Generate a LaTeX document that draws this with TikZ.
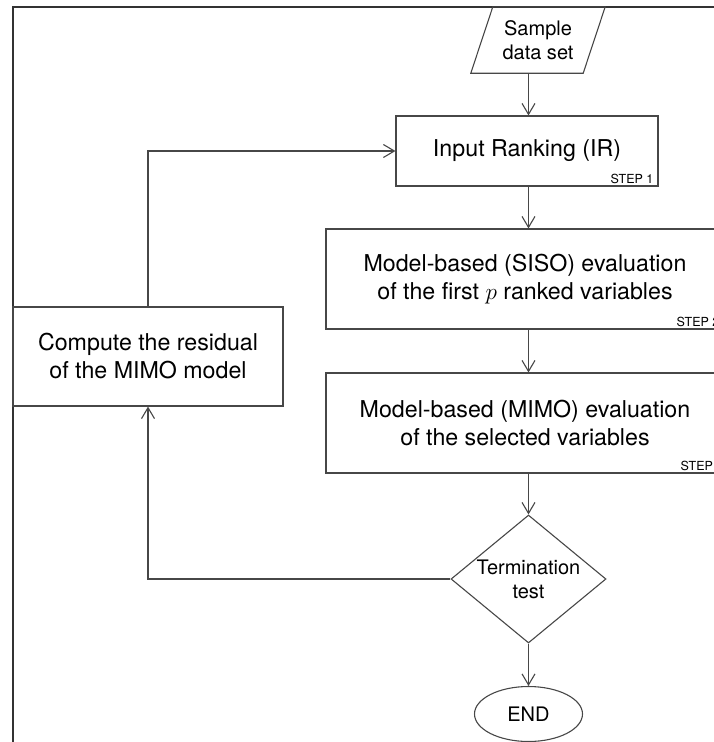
\documentclass[tikz,border=0pt]{standalone}
\usepackage{fix-cm}
\usepackage{fontspec}
\setmainfont{TeX Gyre Heros}
\usetikzlibrary{arrows.meta,shapes.geometric,calc}
\begin{document}
\begin{tikzpicture}[x=1pt,y=-1pt,
  line/.style={draw=black!72, line width=1.1pt},
  arr/.style={line, -{Straight Barb[length=11pt,width=13pt]}},
  big/.style={font=\fontsize{23.2}{28}\selectfont, align=center},
  small/.style={font=\fontsize{20}{24}\selectfont, align=center},
  stepbox/.style={line, big, rectangle, inner sep=0pt},
  steplabel/.style={font=\fontsize{12.5}{14}\selectfont, anchor=south east, inner sep=0pt}]
\useasboundingbox (0,0) rectangle (714,742);
% frame
\draw[draw=black!80, line width=2pt] (12.7,750) -- (12.7,7) -- (720,7);
\coordinate (col) at (528.5,0);
% nodes
\node[small, minimum width=134, minimum height=66, inner sep=0pt] (sds) at (538,40) {Sample\\data set};
\draw[line] ($(sds.north west)+(22,0)$) -- (sds.north east) -- ($(sds.south east)+(-22,0)$) -- (sds.south west) -- cycle;
\node[stepbox, minimum width=262, minimum height=70] (ir) at (527,151) {Input Ranking (IR)};
\node[stepbox, minimum width=398, minimum height=100] (siso) at (525,279) {Model-based (SISO) evaluation\\of the first $p$ ranked variables};
\node[stepbox, minimum width=398, minimum height=100] (mimo) at (525,423) {Model-based (MIMO) evaluation\\of the selected variables};
\node[stepbox, minimum width=270, minimum height=99] (res) at (148,356.5) {Compute the residual\\of the MIMO model};
\node[line, small, diamond, aspect=1.21, minimum width=155, minimum height=128, inner sep=0pt] (dia) at (528.5,579) {Termination\\test};
\node[line, small, ellipse, minimum width=108, minimum height=55, inner sep=0pt] (end) at (528.5,714) {END};
% step labels
\node[steplabel] (s1) at ($(ir.south east)+(-5,-3)$) {STEP 1};
\node[steplabel] (s2) at ($(siso.south east)+(-5,-3)$) {STEP 2};
\node[steplabel] (s3) at ($(mimo.south east)+(-1,-3)$) {STEP 3};
% connectors
\draw[arr] (col |- sds.south) -- (col |- ir.north);
\draw[arr] (col |- ir.south) -- (col |- siso.north);
\draw[arr] (col |- siso.south) -- (col |- mimo.north);
\draw[arr] (col |- mimo.south) -- (dia.north);
\draw[arr] (dia.south) -- (end.north);
\draw[arr] (res.north) |- (ir.west);
\draw[arr] (dia.west) -| (res.south);
\end{tikzpicture}
\end{document}
